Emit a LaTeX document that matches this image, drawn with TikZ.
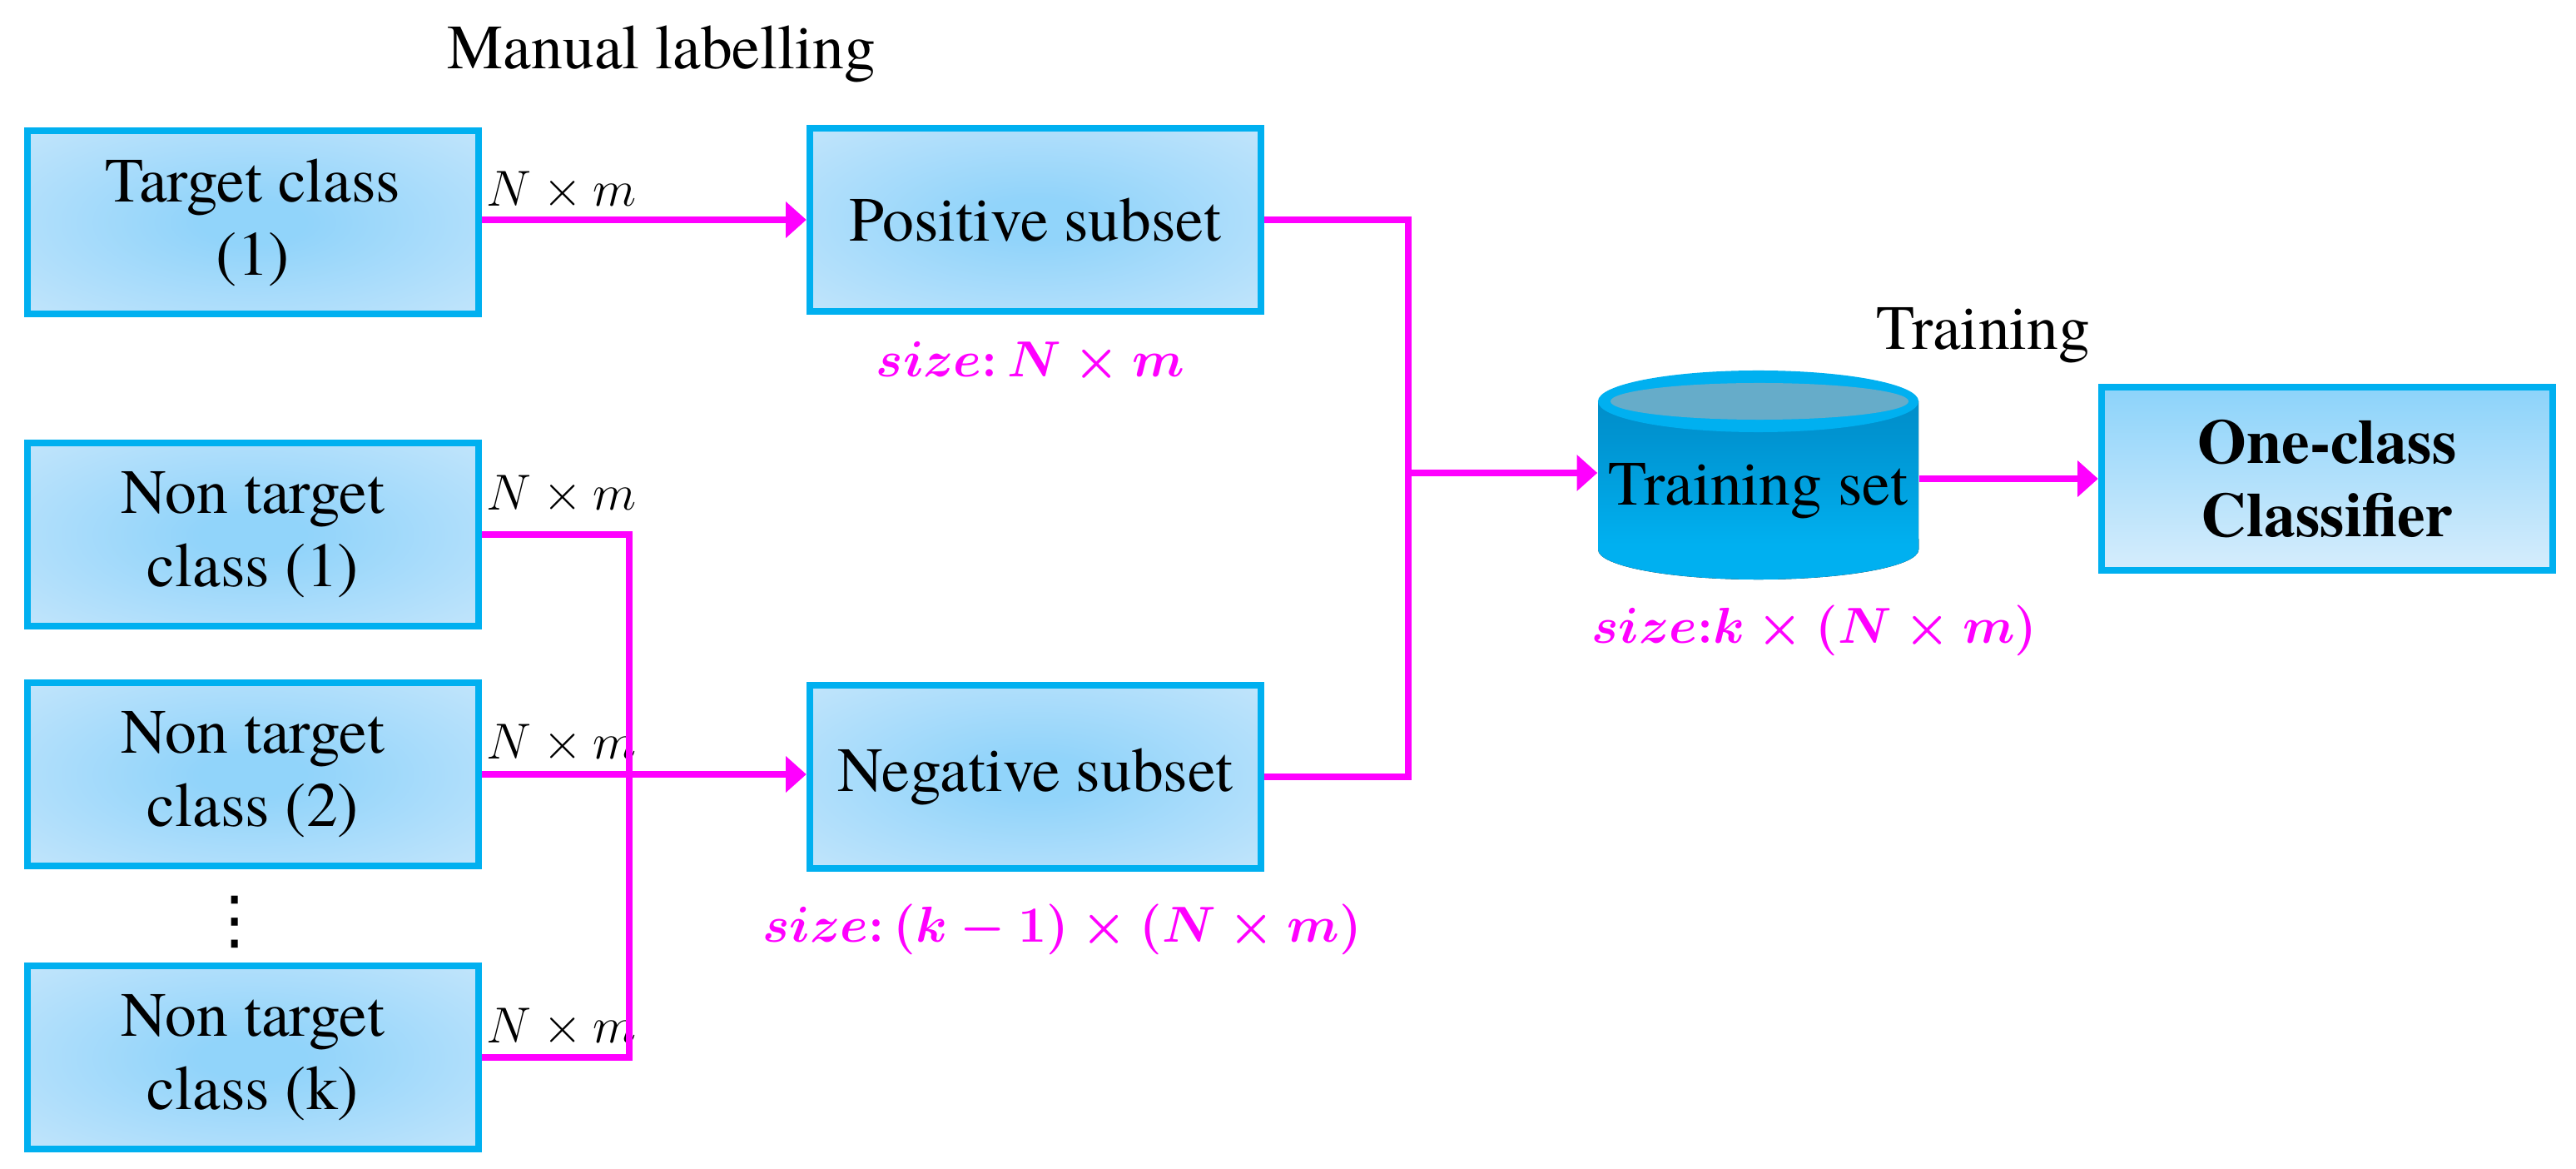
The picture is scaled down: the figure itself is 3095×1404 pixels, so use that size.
\documentclass[tikz,border=0pt]{standalone}
\usepackage{fontspec}
\setmainfont{texgyretermes-regular.otf}[BoldFont=texgyretermes-bold.otf, ItalicFont=texgyretermes-italic.otf]
\newfontfamily\djv{DejaVu Sans}
\usetikzlibrary{arrows.meta}
\definecolor{boxblue}{HTML}{00B0F0}
\definecolor{mag}{HTML}{FF00FF}
\definecolor{cylTop}{HTML}{66ACC9}
\definecolor{clsTop}{HTML}{8CD3FA}
\definecolor{clsBot}{HTML}{D6EDFC}
\pgfdeclareradialshading{boxrad}{\pgfpointorigin}{rgb(0bp)=(0.57,0.83,0.98); rgb(6bp)=(0.57,0.83,0.98); rgb(50bp)=(0.85,0.93,0.99); rgb(75bp)=(0.87,0.94,0.99)}
\pgfdeclareverticalshading{cylshade}{100bp}{rgb(0bp)=(0,0.69,0.94); rgb(35bp)=(0,0.69,0.94); rgb(65bp)=(0,0.58,0.82); rgb(100bp)=(0,0.5,0.72)}
\tikzset{
  box/.style={draw=boxblue, line width=2.3pt, shade, shading=boxrad,
    minimum width=5.42cm, minimum height=2.2cm, inner sep=0pt, align=center,
    font=\fontsize{21.5}{25}\selectfont},
  conn/.style={draw=mag, line width=2.3pt},
  arr/.style={conn, -{Triangle[length=7pt,width=12pt]}},
  dimlbl/.style={inner sep=0pt, font=\fontsize{17.5}{20}\selectfont},
  sizelbl/.style={inner sep=0pt, text=mag, font=\fontsize{17.5}{20}\selectfont\boldmath},
  titlelbl/.style={inner sep=0pt, font=\fontsize{21.5}{25}\selectfont},
}
\begin{document}
\begin{tikzpicture}[x=0.01cm, y=-0.01cm]
\useasboundingbox (0,0) rectangle (3095,1404);

% titles
\node[titlelbl, anchor=base west] (ml) at (537,83) {Manual labelling};
\node[titlelbl, anchor=base west] (tr) at (2254,420) {Training};

% left boxes
\node[box] (tc)  at (304,267)  {Target class\\(1)};
\node[box] (nt1) at (304,642)  {Non target\\class (1)};
\node[box] (nt2) at (304,930)  {Non target\\class (2)};
\node[box] (ntk) at (304,1270) {Non target\\class (k)};
\node[inner sep=0pt, font=\fontsize{22}{24}\selectfont\djv] (vd) at (282,1107) {⋮};

% subsets
\node[box] (pos) at (1244,264) {Positive subset};
\node[box] (neg) at (1244,933) {Negative subset};

% cylinder
\fill[shading=cylshade] (1920,482) -- (1920,660)
  arc[start angle=180, end angle=360, x radius=1.925cm, y radius=0.36cm]
  -- (2305,482) -- cycle;
\fill[boxblue] (2112.5,482) ellipse[x radius=1.925cm, y radius=0.37cm];
\fill[cylTop] (2114,482) ellipse[x radius=1.79cm, y radius=0.22cm];
\node[inner sep=0pt, minimum width=3.85cm, font=\fontsize{21.5}{25}\selectfont] (ts) at (2112.5,590) {Training set};

% classifier
\node[box, top color=clsTop, bottom color=clsBot, font=\fontsize{21.5}{25}\selectfont\bfseries] (cls) at (2796,575) {One-class\\Classifier};

% dimension labels
\node[dimlbl, anchor=base west] (d0) at (584,248)  {$N\times m$};
\node[dimlbl, anchor=base west] (d1) at (584,613)  {$N\times m$};
\node[dimlbl, anchor=base west] (d2) at (584,911)  {$N\times m$};
\node[dimlbl, anchor=base west] (d3) at (584,1252) {$N\times m$};

% size labels
\node[sizelbl] (s1) at (1238,435)  {$size\colon N\times m$};
\node[sizelbl] (s2) at (1276,1116) {$size\colon (k-1)\times(N\times m)$};
\node[sizelbl] (s3) at (2180,757)  {$size{:}k\times(N\times m)$};

% connectors
\coordinate (nv) at (756,642);
\coordinate (jn) at (1692,568);
\draw[arr] (tc.east |- pos.west) -- (pos.west);
\draw[conn] (nt1.east) -- (nt1.east -| nv) -- (ntk.east -| nv) -- (ntk.east);
\draw[arr] (nt2.east) -- (nt2.east -| neg.west);
\draw[conn] (pos.east) -| (jn);
\draw[conn] (neg.east) -| (jn);
\draw[arr] (jn) -- (jn -| ts.west);
\draw[arr] (ts.east |- cls.west) -- (cls.west);
\end{tikzpicture}
\end{document}
